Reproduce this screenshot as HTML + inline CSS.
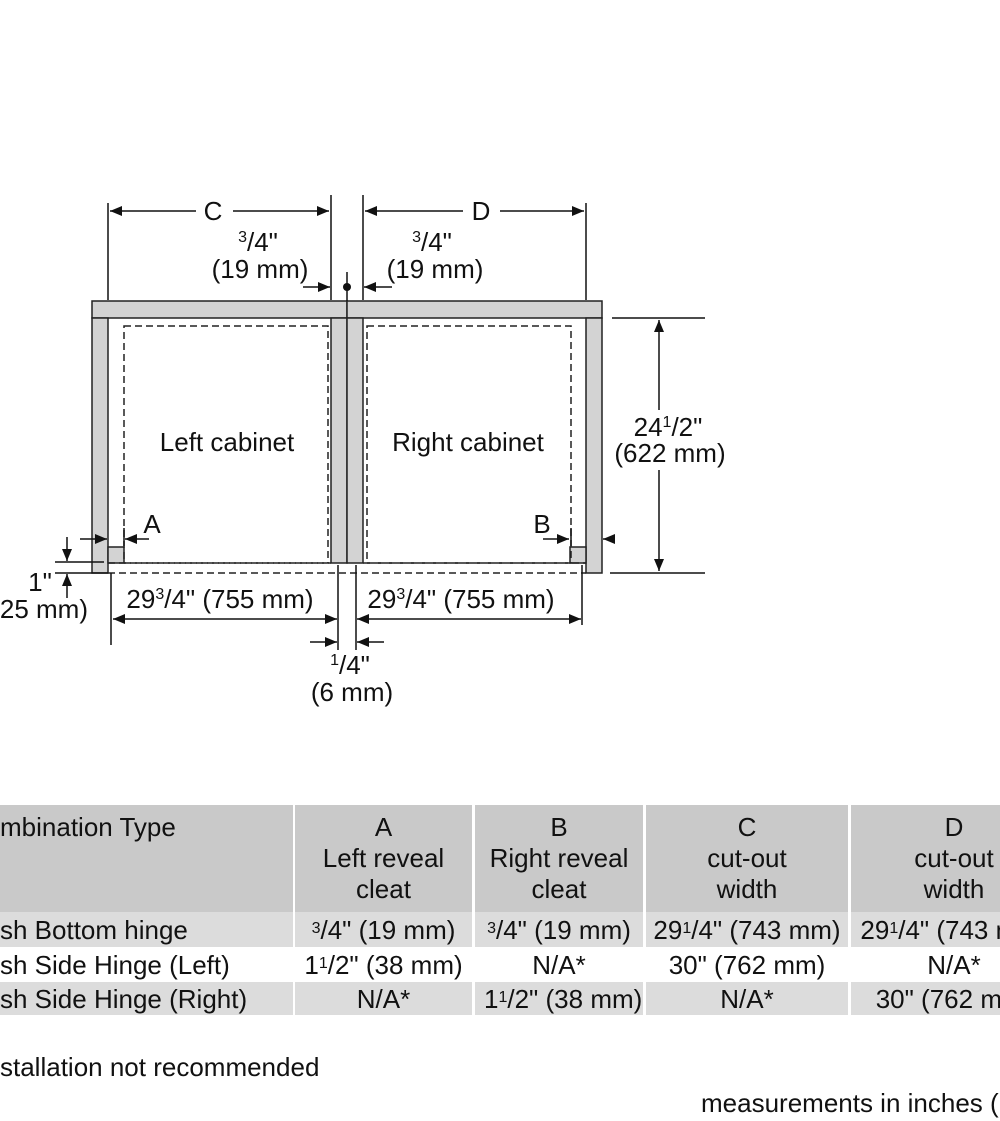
<!DOCTYPE html>
<html><head><meta charset="utf-8"><style>
html,body{margin:0;padding:0;background:#fff;}
body{width:1000px;height:1121px;position:relative;overflow:hidden;font-family:"Liberation Sans",sans-serif;color:#111;}
svg{position:absolute;left:0;top:0;}
svg text{font-family:"Liberation Sans",sans-serif;font-size:26px;fill:#111;}
.c{position:absolute;text-align:center;font-size:26px;line-height:28px;overflow:hidden;white-space:nowrap;}
.h{background:#c9c9c9;}
.r1{background:#dcdcdc;}
.r3{background:#dcdcdc;}
sup{font-size:16px;vertical-align:top;position:relative;top:-1px;}
</style></head><body>
<svg width="1000" height="1121" viewBox="0 0 1000 1121">
<defs>
<marker id="a" markerWidth="12" markerHeight="10" refX="12" refY="5" orient="auto" markerUnits="userSpaceOnUse"><path d="M0,0 L12,5 L0,10 z" fill="#111"/></marker>
<marker id="b" markerWidth="12" markerHeight="10" refX="0" refY="5" orient="auto" markerUnits="userSpaceOnUse"><path d="M12,0 L0,5 L12,10 z" fill="#111"/></marker>
</defs>
<g stroke="#222" stroke-width="1.5" fill="#d3d3d3">
<rect x="92" y="301" width="255" height="17"/>
<rect x="347" y="301" width="255" height="17"/>
<rect x="92" y="318" width="16" height="255"/>
<rect x="586" y="318" width="16" height="255"/>
<rect x="331" y="318" width="16" height="245"/>
<rect x="347" y="318" width="16" height="245"/>
<rect x="108" y="547" width="16" height="16"/>
<rect x="570" y="547" width="16" height="16"/>
</g>
<g stroke="#222" stroke-width="1.5" fill="none" stroke-dasharray="7,4">
<rect x="124" y="326" width="204" height="237"/>
<rect x="367" y="326" width="204" height="237"/>
<line x1="108" y1="573" x2="586" y2="573"/>
<line x1="108" y1="563" x2="331" y2="563"/>
<line x1="363" y1="563" x2="586" y2="563"/>
</g>
<g stroke="#111" stroke-width="1.5" fill="none">
<line x1="108" y1="203" x2="108" y2="300"/>
<line x1="331" y1="195" x2="331" y2="300"/>
<line x1="363" y1="195" x2="363" y2="300"/>
<line x1="586" y1="203" x2="586" y2="300"/>
<line x1="196" y1="211" x2="110" y2="211" marker-end="url(#a)"/>
<line x1="233" y1="211" x2="329" y2="211" marker-end="url(#a)"/>
<line x1="463" y1="211" x2="365" y2="211" marker-end="url(#a)"/>
<line x1="500" y1="211" x2="584" y2="211" marker-end="url(#a)"/>
<line x1="303" y1="287" x2="330" y2="287" marker-end="url(#a)"/>
<line x1="392" y1="287" x2="364" y2="287" marker-end="url(#a)"/>
<line x1="347" y1="272" x2="347" y2="301"/>
<line x1="612" y1="318" x2="705" y2="318"/>
<line x1="610" y1="573" x2="705" y2="573"/>
<line x1="659" y1="410" x2="659" y2="320" marker-end="url(#a)"/>
<line x1="659" y1="470" x2="659" y2="571" marker-end="url(#a)"/>
<line x1="80" y1="539" x2="107" y2="539" marker-end="url(#a)"/>
<line x1="149" y1="539" x2="125" y2="539" marker-end="url(#a)"/>
<line x1="124" y1="528" x2="124" y2="546"/>
<line x1="543" y1="539" x2="569" y2="539" marker-end="url(#a)"/>
<line x1="613" y1="539" x2="603" y2="539" marker-end="url(#a)"/>
<line x1="571" y1="528" x2="571" y2="546"/>
<line x1="55" y1="562" x2="104" y2="562"/>
<line x1="55" y1="573" x2="108" y2="573"/>
<line x1="67" y1="537" x2="67" y2="561" marker-end="url(#a)"/>
<line x1="67" y1="598" x2="67" y2="574" marker-end="url(#a)"/>
<line x1="111" y1="573" x2="111" y2="645"/>
<line x1="338" y1="565" x2="338" y2="650"/>
<line x1="356" y1="565" x2="356" y2="650"/>
<line x1="582" y1="565" x2="582" y2="625"/>
<line x1="113" y1="619" x2="337" y2="619" marker-start="url(#b)" marker-end="url(#a)"/>
<line x1="357" y1="619" x2="581" y2="619" marker-start="url(#b)" marker-end="url(#a)"/>
<line x1="310" y1="642" x2="337" y2="642" marker-end="url(#a)"/>
<line x1="384" y1="642" x2="357" y2="642" marker-end="url(#a)"/>
</g>
<circle cx="347" cy="287" r="4" fill="#111"/>
<text x="213" y="220" text-anchor="middle">C</text>
<text x="481" y="220" text-anchor="middle">D</text>
<text x="258" y="251" text-anchor="middle"><tspan font-size="16" dy="-9">3</tspan><tspan dy="9">/4"</tspan></text>
<text x="260" y="278" text-anchor="middle">(19 mm)</text>
<text x="432" y="251" text-anchor="middle"><tspan font-size="16" dy="-9">3</tspan><tspan dy="9">/4"</tspan></text>
<text x="435" y="278" text-anchor="middle">(19 mm)</text>
<text x="227" y="451" text-anchor="middle">Left cabinet</text>
<text x="468" y="451" text-anchor="middle">Right cabinet</text>
<text x="668" y="436" text-anchor="middle">24<tspan font-size="16" dy="-9">1</tspan><tspan dy="9">/2"</tspan></text>
<text x="670" y="462" text-anchor="middle">(622 mm)</text>
<text x="152" y="533" text-anchor="middle">A</text>
<text x="542" y="533" text-anchor="middle">B</text>
<text x="40" y="591" text-anchor="middle">1"</text>
<text x="88" y="618" text-anchor="end">25 mm)</text>
<text x="220" y="608" text-anchor="middle">29<tspan font-size="16" dy="-9">3</tspan><tspan dy="9">/4" (755 mm)</tspan></text>
<text x="461" y="608" text-anchor="middle">29<tspan font-size="16" dy="-9">3</tspan><tspan dy="9">/4" (755 mm)</tspan></text>
<text x="350" y="674" text-anchor="middle"><tspan font-size="16" dy="-9">1</tspan><tspan dy="9">/4"</tspan></text>
<text x="352" y="701" text-anchor="middle">(6 mm)</text>
<text x="0" y="1076">stallation not recommended</text>
<text x="701" y="1112">measurements in inches (</text>
</svg>

<div class="c h" style="left:0;top:805px;width:293px;height:107px;text-align:left;padding-top:8px;box-sizing:border-box;">mbination Type</div>
<div class="c h" style="left:295px;top:805px;width:177px;height:107px;padding-top:8px;box-sizing:border-box;">A<br><span style="line-height:34px">Left reveal</span><br>cleat</div>
<div class="c h" style="left:475px;top:805px;width:168px;height:107px;padding-top:8px;box-sizing:border-box;">B<br><span style="line-height:34px">Right reveal</span><br>cleat</div>
<div class="c h" style="left:646px;top:805px;width:202px;height:107px;padding-top:8px;box-sizing:border-box;">C<br><span style="line-height:34px">cut-out</span><br>width</div>
<div class="c h" style="left:851px;top:805px;width:206px;height:107px;padding-top:8px;box-sizing:border-box;">D<br><span style="line-height:34px">cut-out</span><br>width</div>

<div class="c r1" style="left:0;top:912px;width:293px;height:35px;text-align:left;padding-top:4px;box-sizing:border-box;">sh Bottom hinge</div>
<div class="c r1" style="left:295px;top:912px;width:177px;height:35px;padding-top:4px;box-sizing:border-box;"><sup>3</sup>/4" (19 mm)</div>
<div class="c r1" style="left:475px;top:912px;width:168px;height:35px;padding-top:4px;box-sizing:border-box;"><sup>3</sup>/4" (19 mm)</div>
<div class="c r1" style="left:646px;top:912px;width:202px;height:35px;padding-top:4px;box-sizing:border-box;">29<sup>1</sup>/4" (743 mm)</div>
<div class="c r1" style="left:851px;top:912px;width:206px;height:35px;padding-top:4px;box-sizing:border-box;">29<sup>1</sup>/4" (743 mm)</div>

<div class="c" style="left:0;top:947px;width:293px;height:35px;text-align:left;padding-top:4px;box-sizing:border-box;">sh Side Hinge (Left)</div>
<div class="c" style="left:295px;top:947px;width:177px;height:35px;padding-top:4px;box-sizing:border-box;">1<sup>1</sup>/2" (38 mm)</div>
<div class="c" style="left:475px;top:947px;width:168px;height:35px;padding-top:4px;box-sizing:border-box;">N/A*</div>
<div class="c" style="left:646px;top:947px;width:202px;height:35px;padding-top:4px;box-sizing:border-box;">30" (762 mm)</div>
<div class="c" style="left:851px;top:947px;width:206px;height:35px;padding-top:4px;box-sizing:border-box;">N/A*</div>

<div class="c r3" style="left:0;top:982px;width:293px;height:33px;text-align:left;padding-top:3px;box-sizing:border-box;">sh Side Hinge (Right)</div>
<div class="c r3" style="left:295px;top:982px;width:177px;height:33px;padding-top:3px;box-sizing:border-box;">N/A*</div>
<div class="c r3" style="left:475px;top:982px;width:168px;height:33px;padding-top:3px;box-sizing:border-box;text-align:left;padding-left:9px;">1<sup>1</sup>/2" (38 mm)</div>
<div class="c r3" style="left:646px;top:982px;width:202px;height:33px;padding-top:3px;box-sizing:border-box;">N/A*</div>
<div class="c r3" style="left:851px;top:982px;width:206px;height:33px;padding-top:3px;box-sizing:border-box;">30" (762 mm)</div>
</body></html>
